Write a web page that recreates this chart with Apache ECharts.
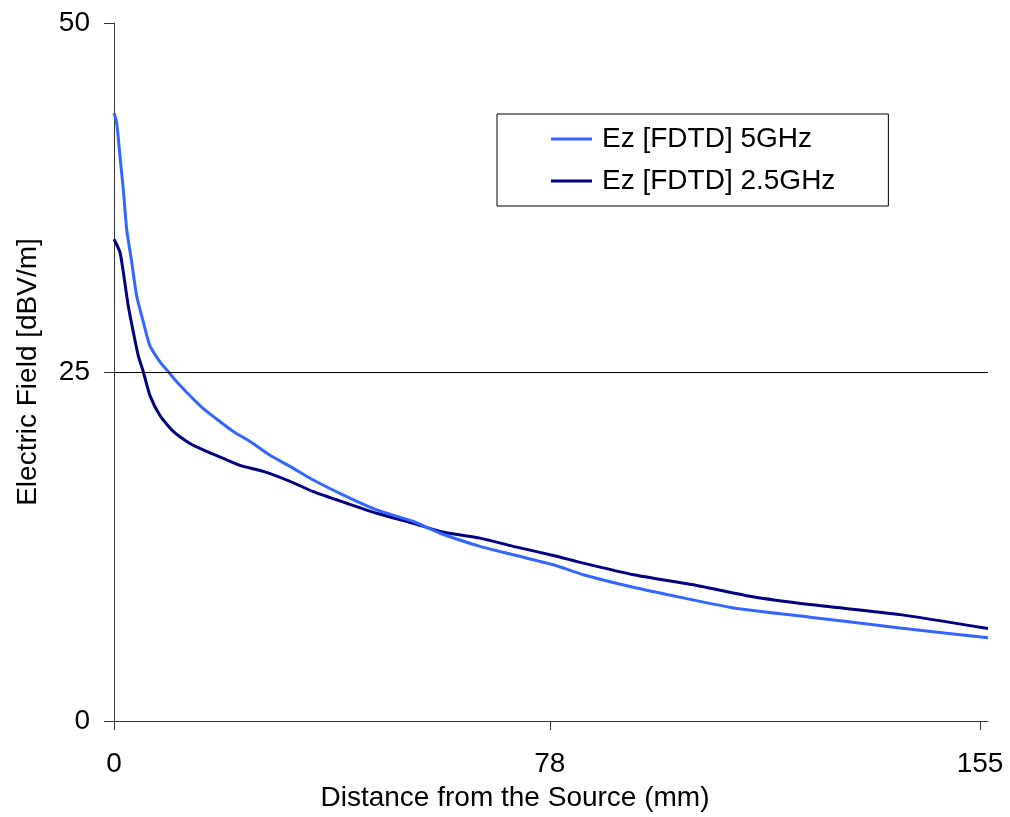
<!DOCTYPE html>
<html>
<head>
<meta charset="utf-8">
<script src="https://cdn.jsdelivr.net/npm/echarts@6/dist/echarts.min.js"></script>
<style>
  html, body { margin: 0; padding: 0; background: #fff; }
  #chart { width: 1010px; height: 817px; }
</style>
</head>
<body>
<div id="chart"></div>
<script>
// Distance from the source (mm) and field strength (dBV/m) for each frequency
const dist5 = [0, 0.48, 1.07, 1.66, 2.27, 3.17, 4.06, 5.24, 6.44, 8.23, 9.72, 11.22, 13.6, 15.98, 18.97, 21.35, 24.34, 27.92, 31.5, 35.67, 41.65, 47.02, 53.57, 58.35, 65.51, 71.47, 78.63, 84.0, 92.95, 101.9, 110.84, 124.57, 140.68, 156.43];
const ez5 = [43.55, 42.84, 40.46, 38.08, 35.22, 32.87, 30.44, 28.59, 26.87, 25.73, 25.02, 24.3, 23.3, 22.38, 21.45, 20.74, 20.02, 19.03, 18.24, 17.26, 16.07, 15.12, 14.29, 13.45, 12.51, 11.91, 11.19, 10.48, 9.58, 8.82, 8.1, 7.44, 6.67, 5.96];

const dist25 = [0, 1.07, 1.66, 2.56, 3.45, 4.35, 5.24, 6.44, 8.23, 10.61, 13.6, 16.59, 19.56, 22.55, 26.72, 31.5, 35.67, 41.65, 47.02, 53.57, 58.35, 65.51, 71.47, 78.63, 84.0, 92.95, 103.69, 113.83, 124.57, 140.68, 156.43];
const ez25 = [34.51, 33.58, 32.16, 29.73, 27.87, 26.16, 25.02, 23.31, 21.88, 20.74, 19.88, 19.31, 18.81, 18.31, 17.88, 17.17, 16.43, 15.6, 14.88, 14.17, 13.58, 13.1, 12.51, 11.86, 11.31, 10.48, 9.76, 8.94, 8.34, 7.62, 6.62];

const xTicks = [0, 78, 155];
const yTicks = [0, 25, 50];
const seriesNames = ['Ez [FDTD] 5GHz', 'Ez [FDTD] 2.5GHz'];

const font = "'Liberation Sans', Arial, sans-serif";
const axisColor = '#333';

const zip = (xs, ys) => xs.map((x, i) => [x, ys[i]]);

const chart = echarts.init(document.getElementById('chart'));
chart.setOption({
  animation: false,
  backgroundColor: '#fff',
  textStyle: { fontFamily: font, color: '#000' },
  grid: { left: 114, right: 22, top: 23, bottom: 93.5 },
  legend: {
    left: 497,
    top: 114,
    orient: 'vertical',
    backgroundColor: '#fff',
    borderColor: '#000',
    borderWidth: 1,
    padding: [11, 53, 11, 54],
    icon: 'rect',
    itemWidth: 41,
    itemHeight: 3,
    itemGap: 14,
    textStyle: { fontFamily: font, fontSize: 28, color: '#000', padding: [0, 0, 0, 5] },
    data: seriesNames
  },
  xAxis: {
    type: 'value',
    min: 0,
    max: 156.43,
    name: 'Distance from the Source (mm)',
    nameLocation: 'middle',
    nameGap: 63,
    nameTextStyle: { fontFamily: font, fontSize: 28, color: '#000', padding: [0, 72, 0, 0] },
    axisLine: { show: true, onZero: false, lineStyle: { color: axisColor, width: 1 } },
    axisTick: { show: true, inside: false, length: 9, customValues: xTicks, lineStyle: { color: axisColor } },
    axisLabel: { customValues: xTicks, margin: 29, fontFamily: font, fontSize: 28, color: '#000' },
    splitLine: { show: false }
  },
  yAxis: {
    type: 'value',
    min: 0,
    max: 50,
    interval: 25,
    name: 'Electric Field [dBV/m]',
    nameLocation: 'middle',
    nameGap: 72,
    nameTextStyle: { fontFamily: font, fontSize: 28, color: '#000' },
    axisLine: { show: true, lineStyle: { color: axisColor, width: 1 } },
    axisTick: { show: true, inside: false, length: 10, customValues: yTicks, lineStyle: { color: axisColor } },
    axisLabel: { customValues: yTicks, margin: 24, fontFamily: font, fontSize: 28, color: '#000' },
    splitLine: { show: false }
  },
  series: [
    {
      name: seriesNames[0],
      type: 'line',
      data: zip(dist5, ez5),
      symbol: 'none',
      smooth: 0.2,
      color: '#3366FF',
      lineStyle: { width: 3, color: '#3366FF' },
      markLine: {
        silent: true,
        symbol: 'none',
        label: { show: false },
        lineStyle: { color: '#000', width: 1, type: 'solid' },
        data: [{ yAxis: yTicks[1] }]
      },
      z: 3
    },
    {
      name: seriesNames[1],
      type: 'line',
      data: zip(dist25, ez25),
      symbol: 'none',
      smooth: 0.2,
      color: '#000080',
      lineStyle: { width: 3, color: '#000080' },
      z: 2
    }
  ]
});
</script>
</body>
</html>
